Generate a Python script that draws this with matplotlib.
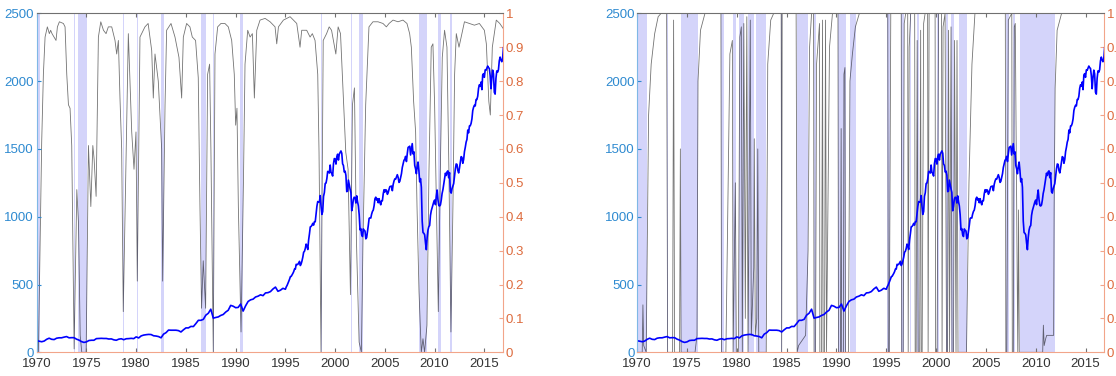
import numpy as np
import matplotlib
matplotlib.use("Agg")
import matplotlib.pyplot as plt

plt.rcParams['font.family'] = ['Liberation Sans Narrow', 'Liberation Sans', 'DejaVu Sans']

# ---- index level (left axis), quarterly 1970-1994 then monthly 1995-2016 ----
spx_quarterly = [
    85, 82, 78, 83, 96, 104, 96, 94, 104, 107, 107, 112, 116, 107, 108, 108,
    97, 90, 79, 73, 77, 87, 89, 89, 101, 102, 103, 102, 102, 98, 99, 92,
    89, 97, 100, 93, 100, 101, 103, 101, 114, 106, 121, 127, 130, 132, 131, 122,
    120, 116, 107, 134, 145, 164, 163, 163, 163, 160, 150, 166, 180, 180, 191, 190,
    212, 236, 236, 243, 274, 288, 318, 252, 257, 261, 272, 279, 297, 310, 346, 340,
    329, 331, 356, 304, 343, 375, 387, 392, 408, 414, 424, 418, 438, 440, 448, 467,
    481, 450, 458, 472,
]
spx_monthly = [
    465, 482, 493, 507, 523, 539, 558, 560, 571, 582, 595, 614,
    614, 649, 647, 648, 659, 671, 640, 652, 674, 702, 738, 745,
    766, 798, 785, 758, 828, 873, 925, 928, 937, 951, 938, 963,
    963, 1023, 1077, 1112, 1108, 1109, 1156, 1075, 1017, 1038, 1150, 1178,
    1245, 1248, 1281, 1334, 1332, 1322, 1381, 1328, 1318, 1300, 1391, 1429,
    1425, 1388, 1443, 1461, 1418, 1462, 1473, 1485, 1468, 1390, 1378, 1330,
    1336, 1305, 1185, 1189, 1270, 1238, 1205, 1179, 1044, 1077, 1129, 1144,
    1140, 1101, 1154, 1112, 1080, 1015, 903, 912, 867, 854, 910, 899,
    895, 837, 846, 890, 936, 988, 992, 990, 1019, 1039, 1049, 1081,
    1132, 1144, 1123, 1133, 1103, 1133, 1106, 1088, 1118, 1118, 1169, 1199,
    1182, 1199, 1195, 1165, 1178, 1202, 1222, 1224, 1226, 1192, 1238, 1263,
    1279, 1277, 1294, 1310, 1290, 1253, 1261, 1288, 1317, 1363, 1389, 1416,
    1424, 1445, 1407, 1464, 1511, 1515, 1520, 1455, 1497, 1539, 1463, 1479,
    1378, 1354, 1317, 1370, 1403, 1341, 1257, 1281, 1217, 968, 883, 878,
    866, 806, 757, 848, 902, 926, 935, 1010, 1045, 1068, 1088, 1110,
    1123, 1089, 1152, 1197, 1126, 1083, 1079, 1087, 1122, 1171, 1199, 1241,
    1282, 1321, 1304, 1331, 1338, 1287, 1325, 1185, 1174, 1207, 1226, 1244,
    1300, 1352, 1389, 1386, 1341, 1323, 1359, 1403, 1443, 1437, 1394, 1422,
    1480, 1512, 1550, 1570, 1639, 1619, 1669, 1671, 1688, 1721, 1783, 1807,
    1822, 1817, 1864, 1864, 1889, 1947, 1973, 1962, 1993, 1937, 2045, 2055,
    2028, 2083, 2080, 2095, 2111, 2099, 2094, 2040, 1944, 2024, 2081, 2054,
    1918, 1904, 2022, 2075, 2066, 2084, 2149, 2177, 2158, 2143, 2165, 2246,
]

# ---- regime probability (right axis), left model ----
left_prob_t = [
    1970.0, 1970.17, 1970.5, 1970.67, 1970.84, 1971.07, 1971.27, 1971.4, 1971.54, 1971.74,
    1971.94, 1972.08, 1972.28, 1972.68, 1972.85, 1973.02, 1973.19, 1973.35, 1973.52, 1973.76,
    1974.03, 1974.2, 1974.37, 1974.53, 1974.97, 1975.2, 1975.44, 1975.64, 1975.77, 1975.97,
    1976.2, 1976.44, 1976.71, 1976.97, 1977.2, 1977.54, 1977.87, 1978.04, 1978.21, 1978.37,
    1978.54, 1978.7, 1979.21, 1979.55, 1979.78, 1979.98, 1980.11, 1980.38, 1980.88, 1981.2,
    1981.56, 1981.72, 1981.89, 1982.22, 1982.56, 1982.66, 1982.9, 1983.06, 1983.5, 1983.9,
    1984.3, 1984.57, 1984.74, 1985.07, 1985.4, 1985.64, 1985.97, 1986.24, 1986.41, 1986.57,
    1986.74, 1986.98, 1987.18, 1987.38, 1987.51, 1987.75, 1987.92, 1988.19, 1988.52, 1988.92,
    1989.26, 1989.6, 1989.86, 1990.0, 1990.13, 1990.27, 1990.54, 1990.78, 1990.94, 1991.21,
    1991.45, 1991.68, 1991.88, 1992.12, 1992.45, 1992.96, 1993.46, 1993.96, 1994.13, 1994.3,
    1994.8, 1995.47, 1996.14, 1996.47, 1996.64, 1997.14, 1997.48, 1997.71, 1997.98, 1998.25,
    1998.38, 1998.58, 1998.8, 1999.14, 1999.4, 1999.64, 2000.07, 2000.3, 2000.54, 2000.81,
    2001.07, 2001.3, 2001.54, 2001.74, 2001.94, 2002.14, 2002.41, 2002.64, 2002.8, 2003.07,
    2003.4, 2003.8, 2004.31, 2004.81, 2005.15, 2005.42, 2005.82, 2006.32, 2006.82, 2007.22,
    2007.49, 2007.66, 2007.89, 2008.09, 2008.23, 2008.43, 2008.66, 2008.83, 2008.99, 2009.23,
    2009.43, 2009.66, 2009.83, 2010.0, 2010.24, 2010.37, 2010.57, 2010.77, 2011.0, 2011.24,
    2011.44, 2011.64, 2011.84, 2012.01, 2012.18, 2012.45, 2013.0, 2013.5, 2014.0, 2014.5,
    2015.0, 2015.2, 2015.45, 2015.6, 2015.8, 2016.2, 2016.55, 2016.9,
]
left_prob = [
    0.08, 0.0, 0.62, 0.82, 0.93, 0.96, 0.94, 0.95, 0.94, 0.93,
    0.92, 0.96, 0.975, 0.97, 0.96, 0.82, 0.73, 0.72, 0.61, 0.01,
    0.48, 0.38, 0.05, 0.0, 0.0, 0.61, 0.43, 0.61, 0.57, 0.46,
    0.93, 0.975, 0.95, 0.94, 0.96, 0.96, 0.92, 0.88, 0.92, 0.75,
    0.6, 0.12, 0.94, 0.65, 0.54, 0.65, 0.21, 0.93, 0.96, 0.97,
    0.89, 0.75, 0.88, 0.8, 0.6, 0.21, 0.73, 0.95, 0.97, 0.93,
    0.87, 0.75, 0.93, 0.97, 0.96, 0.93, 0.92, 0.81, 0.43, 0.13,
    0.27, 0.13, 0.82, 0.85, 0.6, 0.0, 0.88, 0.96, 0.97, 0.97,
    0.96, 0.92, 0.82, 0.67, 0.72, 0.43, 0.06, 0.5, 0.85, 0.95,
    0.93, 0.94, 0.75, 0.95, 0.98, 0.985, 0.975, 0.96, 0.91, 0.96,
    0.98, 0.99, 0.97, 0.9, 0.95, 0.95, 0.93, 0.94, 0.92, 0.82,
    0.59, 0.0, 0.92, 0.94, 0.96, 0.95, 0.88, 0.96, 0.94, 0.76,
    0.59, 0.54, 0.17, 0.73, 0.78, 0.33, 0.03, 0.0, 0.33, 0.73,
    0.96, 0.975, 0.975, 0.97, 0.96, 0.97, 0.98, 0.975, 0.98, 0.97,
    0.94, 0.9, 0.74, 0.65, 0.43, 0.18, 0.0, 0.04, 0.0, 0.08,
    0.53, 0.9, 0.91, 0.73, 0.33, 0.12, 0.53, 0.87, 0.95, 0.9,
    0.53, 0.06, 0.43, 0.82, 0.94, 0.9, 0.975, 0.97, 0.965, 0.97,
    0.95, 0.91, 0.74, 0.7, 0.9, 0.98, 0.97, 0.955,
]

# ---- regime probability (right axis), right model ----
right_prob_t = [
    1970.0, 1970.5, 1970.57, 1970.65, 1970.9, 1971.14, 1971.4, 1971.75, 1972.1, 1972.4,
    1972.95, 1973.05, 1973.55, 1973.65, 1973.75, 1974.25, 1974.33, 1974.4, 1975.8, 1976.0,
    1976.1, 1976.35, 1976.8, 1978.4, 1978.46, 1978.9, 1979.3, 1979.55, 1979.62, 1979.85,
    1979.95, 1980.15, 1980.3, 1980.45, 1980.55, 1980.7, 1980.85, 1981.0, 1981.12, 1981.35,
    1981.45, 1981.7, 1981.75, 1981.85, 1982.0, 1982.1, 1982.2, 1982.95, 1983.1, 1983.4,
    1983.7, 1984.45, 1984.5, 1984.55, 1985.95, 1986.05, 1986.2, 1986.9, 1987.15, 1987.3,
    1987.5, 1987.7, 1987.75, 1987.9, 1988.0, 1988.3, 1988.33, 1988.5, 1988.6, 1988.66,
    1988.8, 1988.9, 1989.0, 1989.1, 1989.3, 1989.6, 1990.15, 1990.2, 1990.4, 1990.47,
    1990.52, 1990.7, 1990.75, 1990.85, 1990.9, 1991.2, 1991.35, 1991.6, 1991.9, 1992.3,
    1995.15, 1995.2, 1995.3, 1995.45, 1996.5, 1996.55, 1996.7, 1996.8, 1996.95, 1997.15,
    1997.2, 1997.3, 1997.45, 1997.85, 1997.9, 1998.0, 1998.1, 1998.2, 1998.35, 1998.45,
    1998.5, 1998.6, 1998.75, 1998.9, 1999.15, 1999.2, 1999.3, 1999.9, 1999.95, 2000.1,
    2000.25, 2000.55, 2000.6, 2000.7, 2000.9, 2001.05, 2001.15, 2001.25, 2001.35, 2001.5,
    2001.6, 2001.75, 2001.85, 2002.0, 2002.1, 2002.2, 2003.05, 2003.3, 2003.6, 2003.9,
    2006.95, 2007.0, 2007.1, 2007.25, 2007.6, 2007.65, 2007.75, 2007.85, 2007.95, 2008.2,
    2008.28, 2008.35, 2010.7, 2010.77, 2010.85, 2011.0, 2011.1, 2011.8, 2011.85, 2011.95,
    2012.15, 2012.6, 2016.9,
]
right_prob = [
    0.0, 0.0, 0.14, 0.02, 0.0, 0.7, 0.85, 0.94, 0.99, 1.0,
    1.0, 0.0, 0.0, 0.98, 0.0, 0.0, 0.6, 0.0, 0.0, 0.05,
    0.8, 0.95, 1.0, 1.0, 0.0, 0.0, 0.88, 0.92, 0.0, 0.5,
    0.0, 0.0, 0.93, 0.96, 0.0, 0.97, 0.1, 0.99, 0.0, 0.98,
    0.05, 0.25, 0.63, 0.05, 0.1, 0.6, 0.0, 0.0, 0.85, 0.98,
    1.0, 1.0, 0.0, 1.0, 1.0, 0.0, 0.02, 0.05, 0.3, 0.9,
    1.0, 1.0, 0.0, 0.0, 0.85, 0.97, 0.0, 0.0, 0.98, 0.0,
    0.0, 0.98, 0.0, 0.3, 0.9, 1.0, 1.0, 0.0, 0.0, 0.66,
    0.0, 0.0, 0.82, 0.84, 0.0, 0.0, 0.8, 0.88, 0.96, 1.0,
    1.0, 0.0, 0.0, 1.0, 1.0, 0.0, 0.0, 0.97, 1.0, 1.0,
    0.0, 0.9, 1.0, 1.0, 0.0, 0.0, 0.92, 0.0, 0.0, 0.95,
    0.0, 0.0, 0.97, 1.0, 1.0, 0.0, 1.0, 1.0, 0.0, 0.0,
    1.0, 1.0, 0.0, 0.96, 1.0, 0.0, 0.0, 0.95, 0.0, 0.96,
    0.0, 0.0, 0.92, 0.0, 0.92, 0.0, 0.0, 0.5, 0.85, 1.0,
    1.0, 0.0, 0.0, 0.98, 1.0, 0.0, 0.0, 0.96, 0.97, 0.0,
    0.42, 0.0, 0.0, 0.08, 0.02, 0.04, 0.05, 0.05, 0.43, 0.78,
    0.95, 1.0, 1.0,
]

# ---- shaded regime periods (start, end) ----
left_shade = [
    (1970.0, 1970.35), (1973.72, 1973.82), (1974.15, 1975.02), (1978.67, 1978.73),
    (1980.08, 1980.14), (1982.5, 1982.78), (1986.55, 1987.02), (1987.72, 1987.82),
    (1990.42, 1990.7), (1998.58, 1998.68), (2001.55, 2001.65), (2002.37, 2002.82),
    (2008.4, 2009.26), (2010.3, 2010.6), (2011.52, 2011.78),
]
right_shade = [
    (1970.0, 1971.0), (1972.95, 1973.12), (1974.36, 1976.05), (1978.44, 1978.75),
    (1979.6, 1979.9), (1980.2, 1980.75), (1981.15, 1981.7), (1981.9, 1982.95),
    (1984.48, 1984.56), (1986.05, 1987.15), (1987.73, 1987.92), (1990.2, 1991.0),
    (1991.4, 1992.0), (1995.1, 1995.4), (1996.5, 1996.8), (1997.38, 1997.45),
    (1998.05, 1998.3), (2000.05, 2000.32), (2000.95, 2001.15), (2001.5, 2001.75),
    (2002.25, 2003.08), (2007.0, 2007.3), (2007.7, 2007.9), (2008.38, 2011.9),
]

t_spx = np.concatenate([1970 + np.arange(len(spx_quarterly)) * 0.25,
                        1995 + np.arange(len(spx_monthly)) / 12.0])
spx = np.array(spx_quarterly + spx_monthly)

blue_lbl = '#2e8ad0'
orange_lbl = '#dd6b3d'
orange_ax = '#f2a58a'


def panel(rect, shades, pt, pp):
    ax = fig.add_axes(rect)
    axr = ax.twinx()
    # index line drawn above the probability line and shading
    ax.set_zorder(axr.get_zorder() + 1)
    ax.patch.set_visible(False)

    for a, b in shades:
        axr.axvspan(a, b, color='#d4d4fa', lw=0, zorder=0)
    axr.plot(pt, pp, color='black', lw=0.6, alpha=0.55)
    ax.plot(t_spx, spx, color='#0000ff', lw=1.2)

    ax.set_xlim(1970, 2016.85)
    ax.set_ylim(0, 2500)
    axr.set_ylim(0, 1)
    ax.set_xticks(range(1970, 2016, 5))
    ax.set_yticks(range(0, 2501, 500))
    axr.set_yticks(np.arange(0, 1.01, 0.1))
    axr.set_yticklabels(['0', '0.1', '0.2', '0.3', '0.4', '0.5', '0.6', '0.7', '0.8', '0.9', '1'])

    ax.tick_params(axis='x', direction='in', length=3, color='#707070',
                   labelcolor='#333333', labelsize=9.5, pad=4, top=True)
    ax.tick_params(axis='y', direction='in', length=3, color=blue_lbl,
                   labelcolor=blue_lbl, labelsize=9.5, pad=2)
    axr.tick_params(axis='y', direction='in', length=3, color=orange_ax,
                    labelcolor=orange_lbl, labelsize=9.5, pad=2)

    for s in axr.spines.values():
        s.set_visible(False)
    ax.spines['top'].set_color('#707070')
    ax.spines['left'].set_color('#7fb8e6')
    ax.spines['bottom'].set_color(orange_ax)
    ax.spines['right'].set_color(orange_ax)
    for s in ax.spines.values():
        s.set_linewidth(0.8)
    return ax


fig = plt.figure(figsize=(11.16, 3.76), dpi=100)
panel([0.0329, 0.063, 0.4176, 0.9016], left_shade, left_prob_t, left_prob)
panel([0.571, 0.063, 0.4182, 0.9016], right_shade, right_prob_t, right_prob)

fig.savefig('out.png', dpi=100)
